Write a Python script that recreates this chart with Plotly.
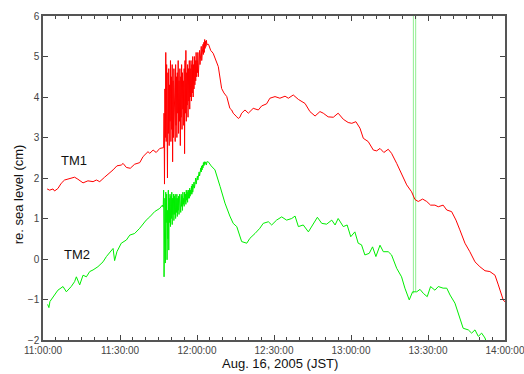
import plotly.graph_objects as go
import pandas as pd

DAY = "2005-08-16 "

# ---- TM1 (red) ----
tm1_pre_t = ["11:01:36","11:02:36","11:03:54","11:04:30","11:05:48","11:07:06","11:08:24","11:10:24",
             "11:12:18","11:13:36","11:15:36","11:17:30","11:19:30","11:20:48","11:22:06","11:24:00",
             "11:26:00","11:27:18","11:28:48","11:30:30","11:31:12","11:32:30","11:34:00","11:35:42",
             "11:37:42","11:39:00","11:40:54","11:41:36","11:42:54","11:44:06","11:45:30","11:46:42"]
tm1_pre_v = [1.73,1.70,1.73,1.68,1.74,1.87,1.95,1.99,
             2.02,1.97,1.88,1.93,1.91,1.95,1.91,2.02,
             2.12,2.20,2.30,2.32,2.36,2.26,2.24,2.34,
             2.38,2.53,2.65,2.61,2.69,2.63,2.73,2.76]

# oscillating part, sampled every 10 s from 11:47:00
noise_start = DAY + "11:47:00"
tm1_noise_v = [2.75,3.6,1.85,4.2,3.0,5.1,   2.9,4.8,3.3,2.0,4.6,3.1,
               4.7,2.8,4.3,3.4,4.9,2.9,     4.5,3.2,4.8,2.4,4.4,3.0,
               4.7,3.5,4.2,2.9,4.8,3.3,     4.5,3.0,4.6,3.6,4.9,3.1,
               4.4,3.4,4.7,2.8,4.5,3.5,     4.8,3.2,4.6,3.7,4.4,3.3,
               4.7,2.6,4.9,3.6,5.15,3.4,    4.6,3.8,4.8,3.5,4.7,3.9,
               4.9,3.7,4.7,4.0,4.9,3.9,     4.8,4.1,5.0,4.0,4.8,4.2,
               5.0,4.3,4.9,4.4,5.1,4.5,     4.9,4.6,5.1,4.5,5.0,4.7,
               5.15,4.8,5.1,4.9,5.25,4.9,   5.2,5.0,5.3,5.05,5.35,5.1,
               5.42,5.2,5.38,5.25,5.4,5.3]

tm1_post_t = ["12:04:30","12:05:20","12:06:18","12:07:20","12:08:18","12:09:36","12:10:30","12:11:36",
              "12:12:48","12:13:30","12:14:06","12:15:30","12:16:06","12:16:42","12:17:24","12:18:42",
              "12:20:00","12:21:54","12:23:54","12:25:12","12:27:06","12:28:24","12:30:24","12:32:18",
              "12:34:18","12:35:36","12:37:30","12:39:30","12:42:06","12:44:00","12:46:00","12:47:54",
              "12:49:12","12:51:06","12:53:06","12:55:00","12:57:00","12:58:54","13:00:18","13:01:54",
              "13:03:30","13:04:48","13:06:42","13:08:42","13:10:00","13:11:18","13:12:48","13:14:30",
              "13:15:48","13:17:48","13:19:42","13:21:42","13:23:36","13:24:54","13:26:12","13:27:54",
              "13:29:30","13:31:00","13:32:42","13:34:00","13:35:54","13:37:18","13:39:12","13:40:54",
              "13:42:24","13:44:24","13:46:18","13:48:18","13:50:12","13:52:12","13:54:06","13:56:06",
              "13:57:24","13:59:18","14:00:00"]
tm1_post_v = [5.30,5.15,5.08,4.90,4.75,4.21,4.10,4.01,
              3.72,3.68,3.60,3.51,3.47,3.50,3.60,3.68,
              3.60,3.72,3.68,3.78,3.83,3.97,4.01,3.97,
              4.02,3.97,4.05,3.94,3.84,3.64,3.53,3.64,
              3.60,3.51,3.50,3.60,3.45,3.37,3.35,3.39,
              3.23,2.98,2.90,2.69,2.67,2.73,2.63,2.71,
              2.61,2.36,2.12,1.83,1.66,1.47,1.42,1.48,
              1.42,1.33,1.33,1.29,1.33,1.21,1.17,0.96,
              0.72,0.39,0.18,-0.07,-0.19,-0.29,-0.31,-0.40,
              -0.64,-1.01,-1.06]

# ---- TM2 (green) ----
tm2_pre_t = ["11:01:48","11:02:18","11:02:42","11:03:54","11:05:48","11:07:48","11:09:06","11:11:00",
             "11:12:18","11:13:00","11:14:18","11:15:36","11:16:54","11:18:12","11:19:30","11:21:24",
             "11:23:24","11:24:42","11:26:00","11:27:18","11:27:54","11:28:48","11:30:30","11:32:30",
             "11:33:48","11:35:42","11:37:42","11:39:00","11:40:12","11:41:36","11:43:30","11:45:30",
             "11:46:30","11:46:50"]
tm2_pre_v = [-1.12,-1.20,-1.05,-0.93,-0.77,-0.68,-0.81,-0.68,
             -0.56,-0.44,-0.64,-0.40,-0.44,-0.31,-0.27,-0.19,
             -0.07,0.06,0.16,0.26,-0.04,0.18,0.39,0.47,
             0.59,0.63,0.76,0.88,0.96,1.04,1.17,1.25,
             1.33,1.28]

tm2_noise_v = [1.7,-0.44,0.6,1.5,-0.1,1.65,     0.9,1.6,-0.02,1.2,0.5,1.7,
               0.22,1.5,0.9,1.6,0.8,1.55,       1.0,1.65,0.85,1.5,1.1,1.6,
               0.95,1.55,1.1,1.6,1.0,1.5,       1.15,1.6,1.05,1.5,1.2,1.55,
               1.1,1.6,1.25,1.5,1.15,1.6,       1.3,1.55,1.2,1.65,1.35,1.5,
               1.3,1.65,1.4,1.6,1.35,1.7,       1.45,1.65,1.4,1.7,1.5,1.7,
               1.5,1.75,1.55,1.7,1.6,1.8,       1.6,1.85,1.65,1.8,1.7,1.9,
               1.75,1.9,1.8,2.0,1.85,1.95,      1.9,2.05,1.95,2.1,2.0,2.15,
               2.05,2.2,2.1,2.25,2.15,2.3,      2.2,2.32,2.25,2.38,2.3,2.4,
               2.33,2.4,2.35,2.38,2.32,2.4]

tm2_post_t = ["12:04:24","12:05:30","12:07:00","12:09:00","12:10:54","12:12:48","12:14:06","12:15:30",
              "12:17:24","12:19:24","12:20:36","12:22:36","12:24:30","12:25:48","12:27:48","12:29:06",
              "12:31:00","12:33:00","12:34:54","12:36:54","12:38:12","12:39:30","12:41:24","12:43:24",
              "12:44:42","12:46:54","12:48:36","12:50:30","12:52:30","12:53:48","12:55:00","12:57:00",
              "12:58:30","12:59:54","13:01:30","13:02:48","13:04:06","13:05:24","13:07:06","13:08:24",
              "13:09:42","13:11:18","13:12:36","13:14:30","13:15:48","13:17:48","13:19:42","13:21:00",
              "13:22:42","13:24:00","13:25:36","13:26:54","13:28:12","13:29:42","13:31:00","13:32:42",
              "13:34:00","13:35:54","13:37:18","13:38:36","13:40:30","13:41:48","13:43:42","13:45:42",
              "13:47:00","13:48:18","13:49:36","13:50:54","13:52:12","13:53:30","13:55:00"]
tm2_post_v = [2.40,2.30,2.20,1.79,1.38,1.06,0.88,0.80,
              0.43,0.39,0.51,0.63,0.76,0.88,0.92,0.84,
              0.96,1.04,0.96,1.00,1.06,0.80,0.84,0.67,
              0.80,1.03,0.88,0.86,0.96,0.84,1.00,0.80,
              0.84,0.55,0.67,0.39,0.35,0.10,0.14,0.30,
              0.06,0.34,0.18,0.18,0.10,-0.23,-0.44,-0.72,
              -1.01,-0.81,-0.81,-0.75,-0.85,-0.93,-0.68,-0.77,
              -0.68,-0.72,-0.72,-0.89,-1.09,-1.34,-1.71,-1.75,
              -1.83,-1.75,-1.91,-1.83,-1.95,-2.2,-2.4]

# TM2 spike (off-scale values at two instants)
spike_t = ["13:24:18", "13:25:12"]
spike_base = [-0.85, -0.80]
spike_top = [6.0, 6.0]

# labels
label_text = ["TM1", "TM2"]
label_t = ["11:12:05", "11:13:15"]
label_v = [2.44, 0.10]

x_ticks = ["11:00:00","11:30:00","12:00:00","12:30:00","13:00:00","13:30:00","14:00:00"]
x_title = "Aug. 16, 2005 (JST)"
y_title = "re. sea level (cm)"

def full(ts):
    return [DAY + t for t in ts]

noise_t1 = pd.date_range(start=noise_start, periods=len(tm1_noise_v), freq="10s")
noise_t2 = pd.date_range(start=noise_start, periods=len(tm2_noise_v), freq="10s")

tm1_x = full(tm1_pre_t) + [t.strftime("%Y-%m-%d %H:%M:%S") for t in noise_t1] + full(tm1_post_t)
tm1_y = tm1_pre_v + tm1_noise_v + tm1_post_v
tm2_x = full(tm2_pre_t) + [t.strftime("%Y-%m-%d %H:%M:%S") for t in noise_t2] + full(tm2_post_t)
tm2_y = tm2_pre_v + tm2_noise_v + tm2_post_v

RED = "#ff0000"
GREEN = "#00ee00"
FONT = "Liberation Sans, Arial, Helvetica, sans-serif"

fig = go.Figure()
sx, sy = [], []
for t, b, tp in zip(spike_t, spike_base, spike_top):
    sx += [DAY + t, DAY + t, None]
    sy += [b, tp, None]
fig.add_trace(go.Scatter(x=sx, y=sy, mode="lines", line=dict(color="#8fee8f", width=1),
                         showlegend=False, hoverinfo="skip"))
fig.add_trace(go.Scatter(x=tm2_x, y=tm2_y, mode="lines", line=dict(color=GREEN, width=1), name="TM2"))
fig.add_trace(go.Scatter(x=tm1_x, y=tm1_y, mode="lines", line=dict(color=RED, width=1), name="TM1"))

for txt, t, v in zip(label_text, label_t, label_v):
    fig.add_annotation(x=DAY + t, y=v, text=txt, showarrow=False,
                       font=dict(family=FONT, size=13, color="#111"))

# axis titles
fig.add_annotation(xref="paper", yref="paper", x=0.513, y=-0.074, text=x_title, showarrow=False,
                   xanchor="center", yanchor="middle", font=dict(family=FONT, size=13, color="#111"))
fig.add_annotation(xref="paper", yref="paper", x=-0.054, y=0.45, text=y_title, showarrow=False,
                   textangle=-90, xanchor="center", yanchor="middle",
                   font=dict(family=FONT, size=13, color="#111"))

fig.update_layout(
    width=524, height=374,
    margin=dict(l=43, r=19, t=16, b=34, autoexpand=False),
    paper_bgcolor="white", plot_bgcolor="white",
    showlegend=False,
    font=dict(family=FONT, size=10, color="#333"),
)
fig.update_xaxes(
    type="date", automargin=False,
    range=[DAY + "11:00:00", DAY + "14:00:00"],
    tickvals=full(x_ticks), ticktext=x_ticks, ticklabeloverflow="allow",
    ticks="inside", ticklen=5, tickwidth=1, tickcolor="#444",
    minor=dict(dtick=5 * 60 * 1000, ticks="inside", ticklen=3, tickcolor="#444", showgrid=False),
    showline=True, linecolor="#555", linewidth=1.5, mirror="ticks",
    showgrid=False, zeroline=False,
    tickfont=dict(size=10, color="#444"),
)
fig.update_yaxes(
    automargin=False,
    range=[-2, 6], dtick=1,
    ticks="inside", ticklen=5, tickwidth=1, tickcolor="#444",
    showline=True, linecolor="#555", linewidth=1.5, mirror="ticks",
    showgrid=False, zeroline=False,
    tickfont=dict(size=10, color="#444"),
)

fig.write_html("out.html", config={"displayModeBar": False},
               post_script="document.body.style.margin='0';document.body.style.overflow='hidden';")
